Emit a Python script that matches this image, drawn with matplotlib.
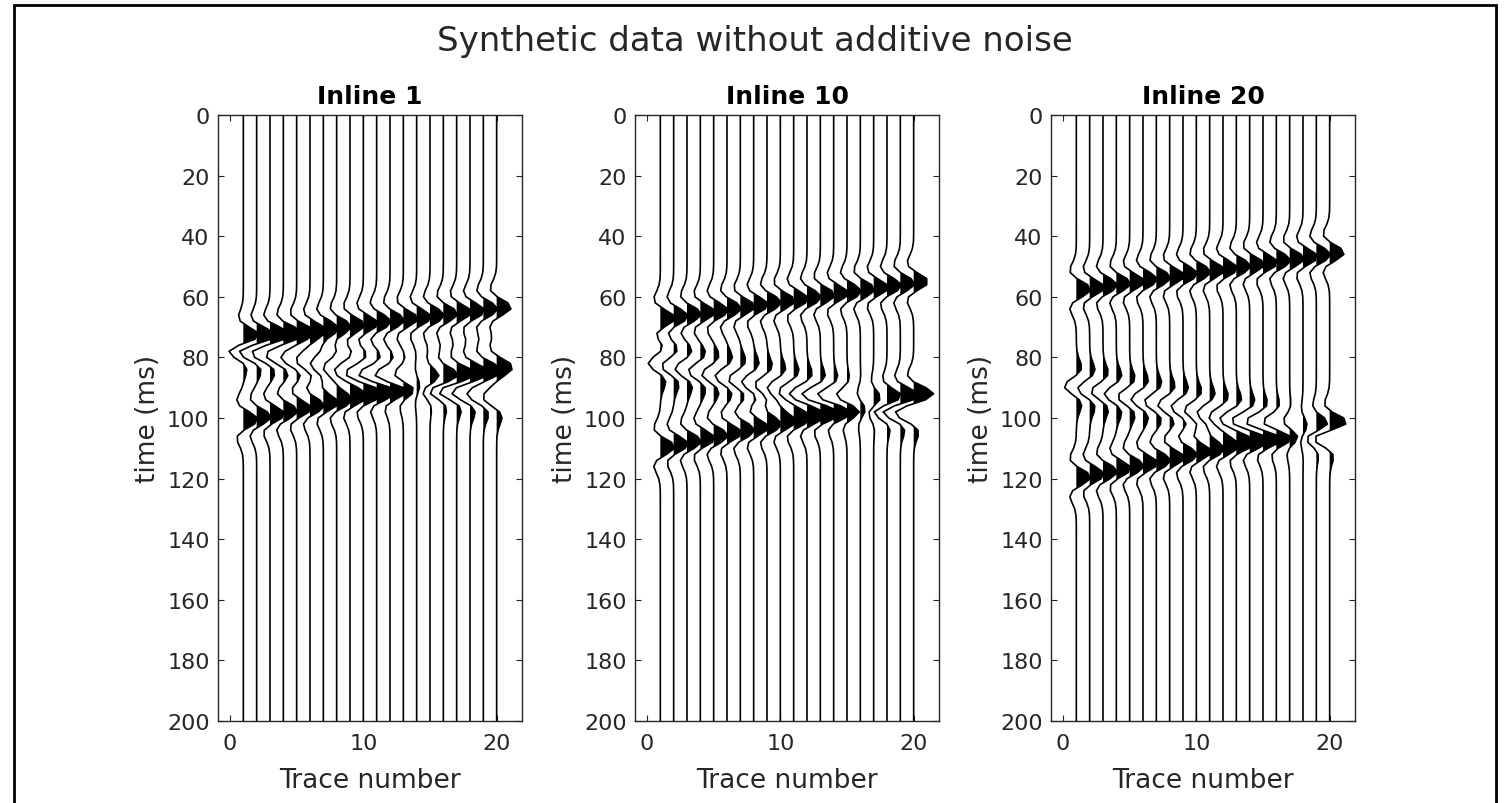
import numpy as np
import matplotlib.pyplot as plt
from matplotlib.patches import Rectangle

traceNumbers = np.arange(1, 21)
inlineTitles = ['Inline 1', 'Inline 10', 'Inline 20']

# arrival times (ms) of the three events on traces 1..20, one row per inline
eventA = [
    [73.5, 73.0, 72.4, 71.9, 71.4, 70.9, 70.3, 69.8, 69.3, 68.8, 68.2, 67.7, 67.2, 66.7, 66.1, 65.6, 65.1, 64.6, 64.0, 63.5],
    [67.0, 66.4, 65.7, 65.1, 64.5, 63.8, 63.2, 62.6, 61.9, 61.3, 60.7, 60.1, 59.4, 58.8, 58.2, 57.5, 56.9, 56.3, 55.6, 55.0],
    [57.5, 56.9, 56.2, 55.6, 55.0, 54.3, 53.7, 53.1, 52.4, 51.8, 51.2, 50.6, 49.9, 49.3, 48.7, 48.0, 47.4, 46.8, 46.1, 45.5],
]
eventB = [
    [77.0, 77.9, 78.7, 79.6, 80.5, 81.3, 82.2, 83.1, 83.9, 84.8, 85.7, 86.6, 87.4, 88.3, 89.2, 90.0, 90.9, 91.8, 92.6, 93.5],
    [82.0, 82.9, 83.7, 84.6, 85.5, 86.3, 87.2, 88.1, 88.9, 89.8, 90.7, 91.6, 92.4, 93.3, 94.2, 95.0, 95.9, 96.8, 97.6, 98.5],
    [89.5, 90.4, 91.2, 92.1, 93.0, 93.8, 94.7, 95.6, 96.4, 97.3, 98.2, 99.1, 99.9, 100.8, 101.7, 102.5, 103.4, 104.3, 105.1, 106.0],
]
eventC = [
    [100.5, 99.6, 98.7, 97.7, 96.8, 95.9, 95.0, 94.1, 93.1, 92.2, 91.3, 90.4, 89.4, 88.5, 87.6, 86.7, 85.8, 84.8, 83.9, 83.0],
    [109.5, 108.6, 107.7, 106.7, 105.8, 104.9, 104.0, 103.1, 102.1, 101.2, 100.3, 99.4, 98.4, 97.5, 96.6, 95.7, 94.8, 93.8, 92.9, 92.0],
    [119.5, 118.6, 117.7, 116.7, 115.8, 114.9, 114.0, 113.1, 112.1, 111.2, 110.3, 109.4, 108.4, 107.5, 106.6, 105.7, 104.8, 103.8, 102.9, 102.0],
]
eventAmp = [1.1, -0.9, 1.1]

timeAxis = np.arange(0, 201, 2.0)   # ms
peakFreq = 62.0                     # Hz
gray = '#262626'


def ricker(tau):
    a = (np.pi * peakFreq * tau / 1000.0) ** 2
    return (1 - 2 * a) * np.exp(-a)


def buildTrace(inline, k):
    tr = np.zeros_like(timeAxis)
    for ev, amp in zip([eventA, eventB, eventC], eventAmp):
        tr += amp * ricker(timeAxis - ev[inline][k])
    return tr


def wigglePanel(ax, inline):
    for k, x0 in enumerate(traceNumbers):
        tr = buildTrace(inline, k)
        ax.fill_betweenx(timeAxis, x0, x0 + tr, where=tr > 0, interpolate=True,
                         color='black', lw=0)
        ax.plot(x0 + tr, timeAxis, color='black', lw=1.2)
    ax.set_xlim(-0.9, 21.9)
    ax.set_ylim(200, 0)
    ax.set_xticks([0, 10, 20])
    ax.set_yticks(np.arange(0, 201, 20))
    ax.tick_params(direction='in', length=4, top=True, right=True,
                   labelsize=16, colors=gray, pad=6)
    ax.tick_params(axis='x', pad=9)
    for s in ax.spines.values():
        s.set_color(gray)
        s.set_linewidth(1.0)
    ax.set_title(inlineTitles[inline], fontsize=18, fontweight='bold', pad=8.5)
    ax.set_xlabel('Trace number', fontsize=19, color=gray, labelpad=10)
    ax.set_ylabel('time (ms)', fontsize=19, color=gray, labelpad=4)


fig = plt.figure(figsize=(15.11, 8.04), dpi=100)
W, H = 1511.0, 804.0
lefts = [218, 635, 1051]
for i, lp in enumerate(lefts):
    ax = fig.add_axes([lp / W, 1 - 722 / H, 304 / W, (722 - 116) / H])
    wigglePanel(ax, i)

fig.text(755 / W, 1 - 42 / H, 'Synthetic data without additive noise',
         ha='center', va='center', fontsize=24.5, color=gray)
fig.patches.append(Rectangle((14 / W, -0.02), (1496 - 14) / W, (804 - 6) / H + 0.02,
                             transform=fig.transFigure, fill=False,
                             edgecolor='black', lw=2))

fig.savefig('out.png', dpi=100)
